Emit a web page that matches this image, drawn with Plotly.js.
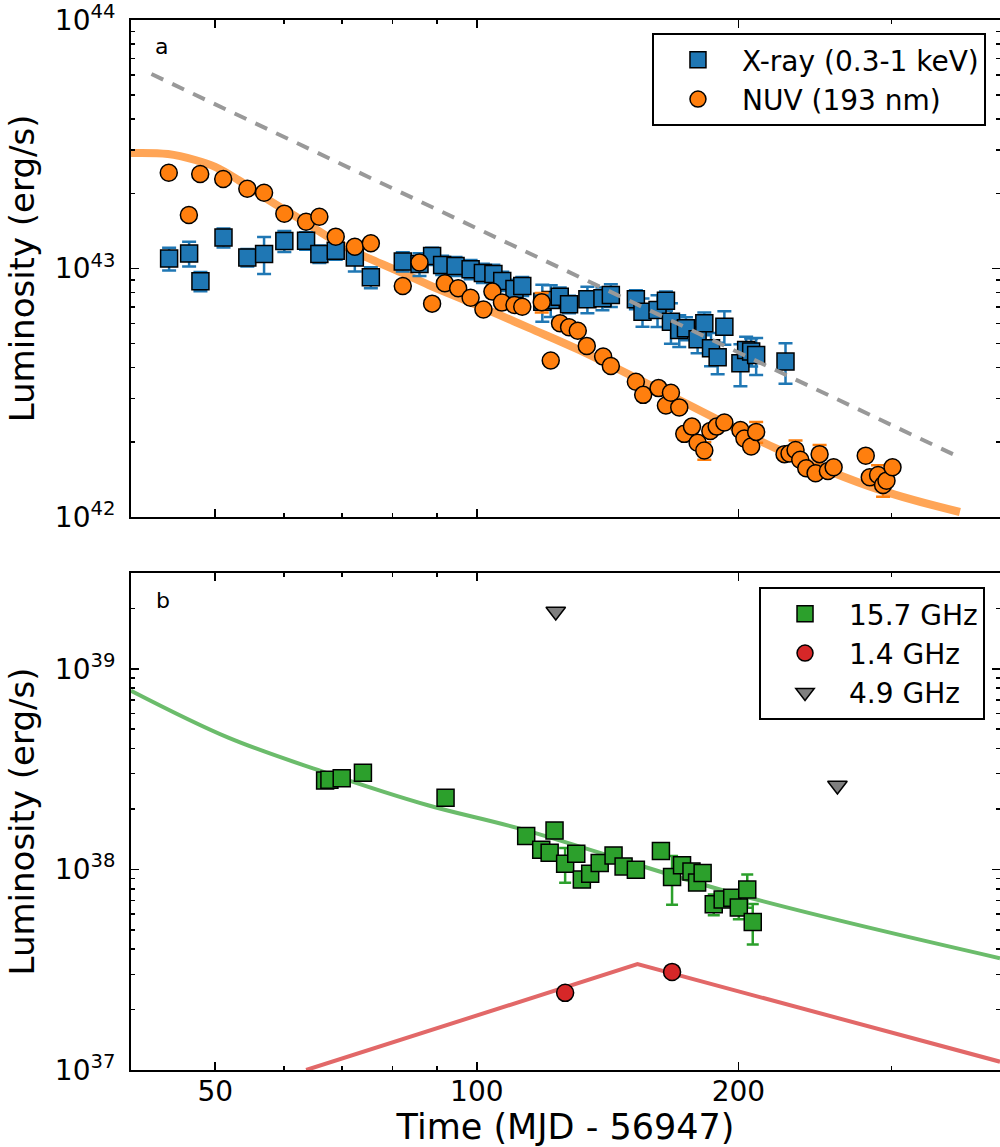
<!DOCTYPE html>
<html>
<head>
<meta charset="utf-8">
<script src="https://cdn.plot.ly/plotly-3.0.1.min.js"></script>
<style>html,body{margin:0;padding:0;background:#fff;}</style>
</head>
<body>
<div id="chart" style="width:1000px;height:1147px;"></div>
<script>
// ---------- Panel a : X-ray (0.3-1 keV) ----------
const xrayT = [44.25,46.66,48.08,51.11,54.44,56.91,60.05,63.61,65.89,68.81,72.38,75.52,82.19,85.91,88.83,91.22,94.52,98.37,101.63,104.50,106.97,110.49,112.80,118.96,121.64,124.58,127.69,134.05,139.50,142.64,152.42,155.12,161.42,165.06,167.26,170.99,174.05,179.50,182.73,186.01,189.30,192.70,201.07,204.14,206.87,209.63,226.59];
const xrayL = [1.097e43,1.149e43,8.88e42,1.332e43,1.108e43,1.144e43,1.291e43,1.294e43,1.144e43,1.179e43,1.108e43,9.22e42,1.067e43,1.042e43,1.123e43,1.033e43,1.023e43,9.93e42,9.59e42,9.50e42,8.91e42,8.27e42,8.50e42,7.35e42,7.47e42,7.70e42,7.18e42,7.52e42,7.59e42,7.82e42,7.52e42,6.70e42,6.81e42,7.42e42,6.11e42,5.66e42,5.75e42,5.19e42,6.02e42,4.77e42,4.39e42,5.83e42,4.155e42,4.70e42,4.63e42,4.49e42,4.22e42];
const xrayErr = [1.16e42,1.31e42,0.79e42,1.18e42,0.89e42,1.94e42,1.25e42,1.04e42,0.92e42,0.95e42,1.35e42,0.89e42,0.94e42,1.10e42,0.90e42,0.91e42,0.90e42,0.88e42,0.85e42,0.84e42,0.79e42,0.73e42,0.75e42,1.25e42,1.09e42,0.68e42,0.58e42,0.92e42,0.80e42,0.82e42,0.66e42,0.87e42,0.99e42,0.66e42,1.13e42,0.83e42,0.61e42,0.63e42,0.63e42,0.73e42,0.64e42,0.90e42,0.80e42,0.61e42,0.60e42,0.76e42,0.78e42];

// ---------- Panel a : NUV (193 nm) ----------
const nuvT = [44.21,46.63,48.05,51.07,54.44,56.91,60.05,63.61,65.89,68.81,72.38,75.52,82.19,85.91,88.83,91.88,95.18,98.37,101.77,104.22,106.89,110.49,112.80,118.77,121.64,124.67,127.69,130.67,133.83,139.76,142.64,152.42,155.40,161.85,165.06,167.26,170.99,173.27,176.85,179.50,182.73,185.66,188.80,192.70,201.07,203.22,206.87,209.63,225.99,229.01,232.69,235.61,239.39,245.38,248.00,253.53,257.40,280.26,283.25,289.57,293.43,296.10,300.86];
const nuvL = [2.43e43,1.642e43,2.40e43,2.292e43,2.095e43,2.018e43,1.662e43,1.543e43,1.616e43,1.343e43,1.224e43,1.263e43,8.50e42,1.057e43,7.22e42,8.72e42,8.33e42,7.63e42,6.84e42,8.07e42,7.29e42,7.13e42,7.02e42,7.31e42,4.26e42,6.02e42,5.80e42,5.62e42,4.88e42,4.42e42,4.05e42,3.50e42,3.10e42,3.30e42,2.81e42,3.16e42,2.76e42,2.16e42,2.31e42,1.99e42,1.85e42,2.22e42,2.31e42,2.40e42,2.24e42,2.07e42,1.92e42,2.20e42,1.79e42,1.80e42,1.86e42,1.70e42,1.57e42,1.50e42,1.79e42,1.53e42,1.585e42,1.765e42,1.445e42,1.476e42,1.345e42,1.40e42,1.585e42];
const nuvErr = [1.0e42,0.7e42,1.0e42,0.9e42,0.8e42,0.8e42,0.7e42,0.6e42,0.6e42,0.5e42,0.5e42,0.5e42,0.34e42,0.42e42,0.29e42,0.35e42,0.33e42,0.3e42,0.27e42,0.32e42,0.29e42,0.28e42,0.28e42,0.66e42,0.17e42,0.24e42,0.23e42,0.22e42,0.2e42,0.18e42,0.16e42,0.14e42,0.12e42,0.13e42,0.11e42,0.13e42,0.11e42,0.09e42,0.09e42,0.08e42,0.15e42,0.09e42,0.09e42,0.1e42,0.09e42,0.08e42,0.08e42,0.21e42,0.07e42,0.07e42,0.17e42,0.07e42,0.06e42,0.06e42,0.16e42,0.06e42,0.06e42,0.07e42,0.06e42,0.14e42,0.14e42,0.06e42,0.06e42];

// ---------- Panel a : model curves ----------
const nuvModelT = [40,44.12,47.42,50,53.15,57.56,62.83,67.49,73.69,80.67,88.06,100.56,114.83,131.12,170.99,223.0,290.88,359.7];
const nuvModelL = [2.916e43,2.889e43,2.733e43,2.562e43,2.271e43,1.887e43,1.568e43,1.339e43,1.133e43,9.86e42,8.583e42,7.063e42,5.763e42,4.699e42,2.957e42,1.860e42,1.285e42,1.047e42];
const xrayModelT = [42.23,358.1];
const xrayModelL = [6.06e43,1.748e42];

// ---------- Panel b : radio ----------
const r157T = [66.90,67.67,69.91,73.95,92.05,113.98,122.87,118.61,121.29,126.37,130.15,132.09,135.05,138.49,143.67,147.54,152.42,162.88,167.76,172.26,176.61,179.27,181.91,187.35,191.84,196.75,200.22,204.74,207.75];
const r157L = [2.772e38,2.794e38,2.846e38,3.028e38,2.274e38,1.468e38,1.563e38,1.253e38,1.211e38,1.068e38,1.197e38,8.89e37,9.52e37,1.075e38,1.174e38,1.035e38,9.97e37,1.233e38,9.16e37,1.047e38,9.77e37,8.59e37,9.58e37,6.70e37,7.07e37,7.23e37,6.45e37,7.94e37,5.47e37];
const r157Err = [0.14e38,0.14e38,0.14e38,0.15e38,0.11e38,0.07e38,0.08e38,0.06e38,0.06e38,0.21e38,0.06e38,0.045e38,0.05e38,0.05e38,0.06e38,0.05e38,0.05e38,0.06e38,0.25e38,0.05e38,0.05e38,0.045e38,0.05e38,0.08e38,0.035e38,0.035e38,0.081e38,0.15e38,0.125e38];
const r14T = [126.37,167.76];
const r14L = [2.424e37,3.083e37];
const r49T = [123.27,260.0];
const r49L = [1.928e39,2.617e38];
const r157ModelT = [40,51.76,67.49,88.06,111.82,201.07,400];
const r157ModelL = [7.77e38,4.536e38,3.003e38,2.082e38,1.600e38,7.43e37,3.607e37];
const r14ModelT = [63.62,153.07,400];
const r14ModelL = [1e37,3.369e37,1.10e37];

// ---------- ticks ----------
const xTickVals = [50,100,200];
const xTickText = ['50','100','200'];
const xMinorVals = [40,60,70,80,90,300,400];
const yaTickVals = [1e42,1e43,1e44];
const yaTickText = ['10<sup>42</sup>','10<sup>43</sup>','10<sup>44</sup>'];
const yaMinorVals = [2e42,3e42,4e42,5e42,6e42,7e42,8e42,9e42,2e43,3e43,4e43,5e43,6e43,7e43,8e43,9e43];
const ybTickVals = [1e37,1e38,1e39];
const ybTickText = ['10<sup>37</sup>','10<sup>38</sup>','10<sup>39</sup>'];
const ybMinorVals = [2e37,3e37,4e37,5e37,6e37,7e37,8e37,9e37,2e38,3e38,4e38,5e38,6e38,7e38,8e38,9e38,2e39,3e39];

const FONT = 'DejaVu Sans, Liberation Sans, sans-serif';
const edge = {color:'#000', width:1.5};

const traces = [
  {x:nuvModelT, y:nuvModelL, xaxis:'x', yaxis:'y', mode:'lines', line:{color:'#ffa556', width:8, shape:'spline'}, showlegend:false, hoverinfo:'skip'},
  {x:xrayT, y:xrayL, xaxis:'x', yaxis:'y', mode:'markers', name:'X-ray (0.3-1 keV)', legend:'legend', legendrank:1,
   marker:{symbol:'square', size:17, color:'#1f77b4', line:edge},
   error_y:{type:'data', array:xrayErr, arrayminus:xrayErr, color:'#1f77b4', thickness:2.5, width:7}},
  {x:xrayModelT, y:xrayModelL, xaxis:'x', yaxis:'y', mode:'lines', line:{color:'#999999', width:4, dash:'13px,10px'}, showlegend:false, hoverinfo:'skip'},
  {x:nuvT, y:nuvL, xaxis:'x', yaxis:'y', mode:'markers', name:'NUV (193 nm)', legend:'legend', legendrank:2,
   marker:{symbol:'circle', size:17, color:'#ff7f0e', line:edge},
   error_y:{type:'data', array:nuvErr, arrayminus:nuvErr, color:'#ff7f0e', thickness:2.5, width:7}},

  {x:r157ModelT, y:r157ModelL, xaxis:'x2', yaxis:'y2', mode:'lines', line:{color:'#6bbc6b', width:4, shape:'spline'}, showlegend:false, hoverinfo:'skip'},
  {x:r14ModelT, y:r14ModelL, xaxis:'x2', yaxis:'y2', mode:'lines', line:{color:'#e26868', width:4}, showlegend:false, hoverinfo:'skip'},
  {x:r157T, y:r157L, xaxis:'x2', yaxis:'y2', mode:'markers', name:'15.7 GHz', legend:'legend2', legendrank:1,
   marker:{symbol:'square', size:17, color:'#2ca02c', line:edge},
   error_y:{type:'data', array:r157Err, arrayminus:r157Err, color:'#2ca02c', thickness:2.5, width:6}},
  {x:r14T, y:r14L, xaxis:'x2', yaxis:'y2', mode:'markers', name:'1.4 GHz', legend:'legend2', legendrank:2,
   marker:{symbol:'circle', size:17, color:'#d62728', line:edge}},
  {x:r49T, y:r49L, xaxis:'x2', yaxis:'y2', mode:'markers', name:'4.9 GHz', legend:'legend2', legendrank:3,
   marker:{symbol:'triangle-down', size:17, color:'#7f7f7f', line:edge}}
];

const axisBase = {
  type:'log', showline:true, linecolor:'#000', linewidth:2, mirror:'allticks',
  ticks:'inside', ticklen:8, tickwidth:1.5, tickcolor:'#000',
  showgrid:false, zeroline:false, tickfont:{family:FONT, size:28, color:'#000'},
  automargin:false
};
const minorBase = {ticks:'inside', ticklen:4, tickwidth:1.5, tickcolor:'#000', showgrid:false, tickmode:'array'};

const xr = [Math.log10(40), Math.log10(400)];
const layout = {
  width:1000, height:1147,
  margin:{l:131, r:0, t:20, b:77},
  paper_bgcolor:'#fff', plot_bgcolor:'#fff',
  font:{family:FONT, color:'#000'},
  xaxis:Object.assign({}, axisBase, {anchor:'y', domain:[0,1], range:xr, tickmode:'array', tickvals:xTickVals, ticktext:xTickText, showticklabels:false,
    minor:Object.assign({}, minorBase, {tickvals:xMinorVals})}),
  xaxis2:Object.assign({}, axisBase, {anchor:'y2', domain:[0,1], range:xr, matches:'x', tickmode:'array', tickvals:xTickVals, ticktext:xTickText,
    minor:Object.assign({}, minorBase, {tickvals:xMinorVals}),
    ticklabelstandoff:-5,
    title:{text:'Time (MJD - 56947)', font:{family:FONT, size:35, color:'#000'}, standoff:17}}),
  yaxis:Object.assign({}, axisBase, {anchor:'x', domain:[0.5267,1], range:[42,44], tickmode:'array', tickvals:yaTickVals, ticktext:yaTickText,
    minor:Object.assign({}, minorBase, {tickvals:yaMinorVals}), ticklabelstandoff:8,
    title:{text:'Luminosity (erg/s)', font:{family:FONT, size:34, color:'#000'}, standoff:10}}),
  yaxis2:Object.assign({}, axisBase, {anchor:'x2', domain:[0,0.4733], range:[37, Math.log10(3e39)], tickmode:'array', tickvals:ybTickVals, ticktext:ybTickText,
    minor:Object.assign({}, minorBase, {tickvals:ybMinorVals}), ticklabelstandoff:8,
    title:{text:'Luminosity (erg/s)', font:{family:FONT, size:34, color:'#000'}, standoff:10}}),
  legend:{x:0.5995, y:0.9876, xanchor:'left', yanchor:'top', bgcolor:'#fff', bordercolor:'#000', borderwidth:2,
    font:{family:FONT, size:28, color:'#000'}, itemwidth:78, tracegroupgap:0},
  legend2:{x:0.7227, y:0.46, xanchor:'left', yanchor:'top', bgcolor:'#fff', bordercolor:'#000', borderwidth:2,
    font:{family:FONT, size:28, color:'#000'}, itemwidth:78, tracegroupgap:0},
  annotations:[
    {text:'a', xref:'paper', yref:'paper', x:0.025, y:0.9743, xanchor:'left', yanchor:'middle', showarrow:false, font:{family:FONT, size:22, color:'#000'}},
    {text:'b', xref:'paper', yref:'paper', x:0.027, y:0.4476, xanchor:'left', yanchor:'middle', showarrow:false, font:{family:FONT, size:22, color:'#000'}}
  ],
  showlegend:true
};

Plotly.newPlot('chart', traces, layout, {displayModeBar:false, staticPlot:true});
</script>
</body>
</html>
